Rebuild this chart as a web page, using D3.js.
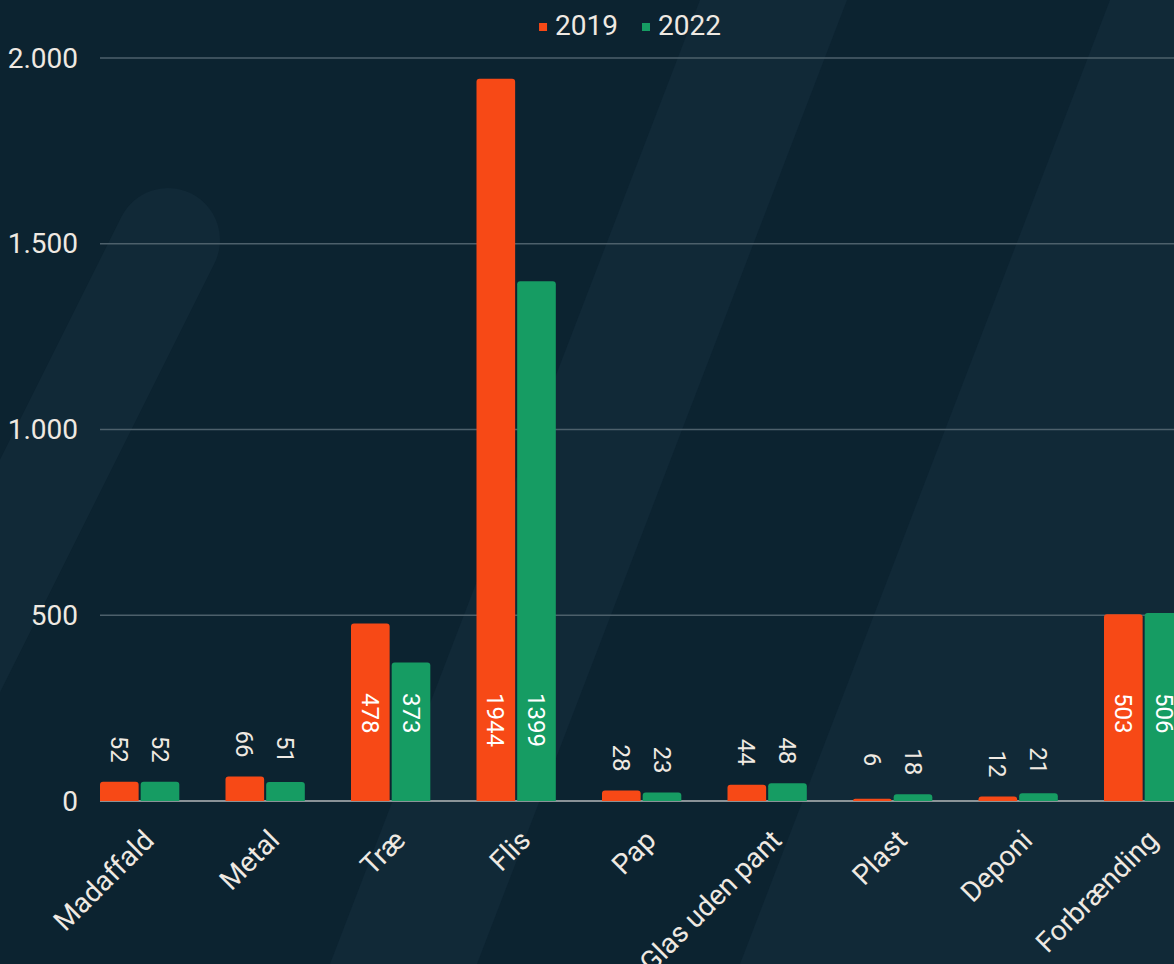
<!DOCTYPE html>
<html>
<head>
<meta charset="utf-8">
<script src="https://cdn.jsdelivr.net/npm/d3@7"></script>
<style>
  html, body { margin: 0; padding: 0; background: #0C2330; overflow: hidden; }
  svg { display: block; font-family: Roboto, "Noto Sans", sans-serif; }
</style>
</head>
<body>
<svg id="chart" width="1174" height="964"></svg>
<script>
const categories = ["Madaffald", "Metal", "Træ", "Flis", "Pap", "Glas uden pant", "Plast", "Deponi", "Forbrænding"];
const seriesNames = ["2019", "2022"];
const values2019 = [52, 66, 478, 1944, 28, 44, 6, 12, 503];
const values2022 = [52, 51, 373, 1399, 23, 48, 18, 21, 506];
const seriesColors = ["#F74916", "#169C63"];
const yTicks = [0, 500, 1000, 1500, 2000];

const W = 1174, H = 964;
const svg = d3.select("#chart");
const textColor = "#EFE9E2";

// background decoration
svg.append("rect").attr("width", W).attr("height", H).attr("fill", "#0C2330");
const deco = "#112937";
svg.append("path").attr("d", "M700,0 L847,0 L477,964 L330,964 Z").attr("fill", deco);
svg.append("path").attr("d", "M1110,0 L1174,0 L1174,964 L740,964 Z").attr("fill", deco);
svg.append("path").attr("d", "M168,240 L-332,1240").attr("stroke", deco)
  .attr("stroke-width", 104).attr("stroke-linecap", "round").attr("fill", "none");

const data = categories.map((c, i) => ({ cat: c, vals: [values2019[i], values2022[i]] }));

const left = 100, step = 125.5, pInner = 0.368;
const x = d3.scaleBand().domain(categories)
  .range([left, left + step * (categories.length - pInner)])
  .paddingInner(pInner).paddingOuter(0);
const xs = d3.scaleBand().domain(seriesNames).range([0, x.bandwidth()]).paddingInner(0.05);
const y = d3.scaleLinear().domain([0, 2000]).range([801, 58]);

const locale = d3.formatLocale({ decimal: ",", thousands: ".", grouping: [3], currency: ["", " kr"] });
const fmt = locale.format(",d");

// gridlines
const grid = svg.append("g");
grid.selectAll("line").data(yTicks).join("line")
  .attr("x1", left).attr("x2", W)
  .attr("y1", d => y(d)).attr("y2", d => y(d))
  .attr("stroke", d => d === 0 ? "#B5B8BA" : "#4D606B")
  .attr("stroke-width", 1.6);

// y-axis labels
svg.append("g").selectAll("text").data(yTicks).join("text")
  .attr("x", left - 22).attr("y", d => y(d))
  .attr("text-anchor", "end").attr("dominant-baseline", "central")
  .attr("fill", textColor).attr("font-size", 28)
  .text(d => fmt(d));

// bars
function topRounded(x0, y0, w, h, r) {
  r = Math.min(r, h, w / 2);
  return `M${x0},${y0 + h} L${x0},${y0 + r} Q${x0},${y0} ${x0 + r},${y0} L${x0 + w - r},${y0} Q${x0 + w},${y0} ${x0 + w},${y0 + r} L${x0 + w},${y0 + h} Z`;
}
const groups = svg.append("g").selectAll("g").data(data).join("g")
  .attr("transform", d => `translate(${x(d.cat)},0)`);
groups.selectAll("path").data(d => d.vals.map((v, i) => ({ v, s: seriesNames[i], i })))
  .join("path")
  .attr("d", d => topRounded(xs(d.s), y(d.v), xs.bandwidth(), y(0) - y(d.v), 3))
  .attr("fill", d => seriesColors[d.i]);

// data labels
groups.selectAll("text").data(d => d.vals.map((v, i) => ({ v, s: seriesNames[i], i })))
  .join("text")
  .attr("transform", d => {
    const cx = xs(d.s) + xs.bandwidth() / 2;
    const inside = d.v > 200;
    const sy = inside ? y(0) - 108 : y(d.v) - 46;
    return `translate(${cx},${sy}) rotate(90)`;
  })
  .attr("text-anchor", "start").attr("dy", "0.35em")
  .attr("fill", d => d.v > 200 ? "#FFFFFF" : textColor)
  .attr("font-size", 24)
  .text(d => d.v);

// category labels
svg.append("g").selectAll("text").data(categories).join("text")
  .attr("transform", d => `translate(${x(d) + x.bandwidth() / 2 + 16},842) rotate(-45)`)
  .attr("text-anchor", "end")
  .attr("fill", textColor).attr("font-size", 28)
  .text(d => d);

// legend
const legend = svg.append("g");
let lx = 0;
const items = [];
seriesNames.forEach((s, i) => {
  const g = legend.append("g");
  g.append("rect").attr("x", 0).attr("y", -12).attr("width", 8).attr("height", 8).attr("fill", seriesColors[i]);
  const t = g.append("text").attr("x", 16).attr("y", 0).attr("fill", textColor).attr("font-size", 28).text(s);
  const w = 16 + t.node().getComputedTextLength();
  g.attr("transform", `translate(${lx},0)`);
  lx += w + 24;
});
const totalW = lx - 24;
legend.attr("transform", `translate(${630 - totalW / 2},35)`);
</script>
</body>
</html>
